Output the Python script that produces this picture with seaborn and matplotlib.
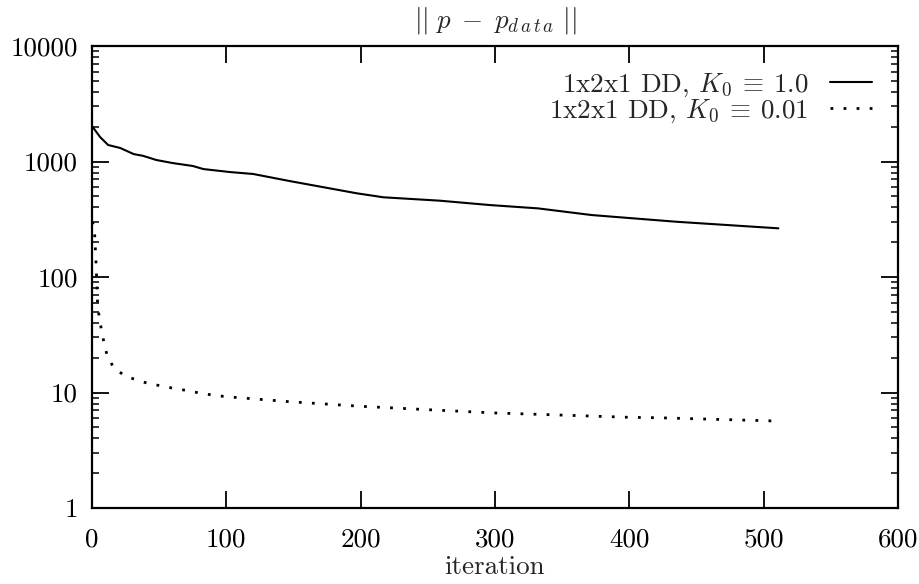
import numpy as np
import pandas as pd
import matplotlib
matplotlib.use("Agg")
import matplotlib.pyplot as plt
from matplotlib.ticker import FixedLocator, FixedFormatter, LogLocator, NullFormatter
import seaborn as sns

# ---- data ----
solid_iter = [0, 6, 12, 21, 31, 38, 48, 60, 75, 83, 103, 120, 147, 197, 217, 259, 296, 332, 372, 435, 511]
solid_val = [2030, 1630, 1390, 1310, 1160, 1120, 1030, 970, 915, 860, 810, 780, 678, 531, 490, 458, 420, 393, 344, 301, 264]

dotted_iter = [0, 1.7, 3, 4.2, 5.5, 7.2, 9.2, 11.6, 16.4, 24.6, 33.7, 42.7, 51.9, 61.8, 71, 81, 90, 100,
               147, 200, 246, 300, 333, 400, 421, 511]
dotted_val = [300, 273, 133, 57, 44, 34, 26, 20.3, 16.3, 13.9, 12.8, 11.9, 11.4, 10.8, 10.4, 9.85, 9.5, 9.2,
              8.33, 7.6, 7.14, 6.65, 6.47, 6.1, 6.05, 5.66]

label_solid = r"1x2x1 DD, $K_0\:\equiv\:1.0$"
label_dotted = r"1x2x1 DD, $K_0\:\equiv\:0.01$"

x_ticks = [0, 100, 200, 300, 400, 500, 600]
y_ticks = [1, 10, 100, 1000, 10000]
y_tick_labels = ["1", "10", "100", "1000", "10000"]

title = r"$||\ p\;-\;p_{d\,a\,t\,a}\ ||$"
xlabel = "iteration"

# ---- style ----
sns.set_style("ticks")
plt.rcParams["font.family"] = ["cmr10", "DejaVu Serif"]
plt.rcParams["mathtext.fontset"] = "cm"
plt.rcParams["axes.formatter.use_mathtext"] = True
FS = 19.5

df1 = pd.DataFrame({"iteration": solid_iter, "value": solid_val})
df2 = pd.DataFrame({"iteration": dotted_iter, "value": dotted_val})

fig = plt.figure(figsize=(9.2, 5.84), dpi=100)
ax = fig.add_axes([0.1, 0.1301, 0.876, 0.7911])

sns.lineplot(data=df1, x="iteration", y="value", ax=ax, color="black", lw=1.5,
             estimator=None, sort=False, label=label_solid)
sns.lineplot(data=df2, x="iteration", y="value", ax=ax, color="black", lw=2.0,
             estimator=None, sort=False, label=label_dotted)
ax.lines[1].set_dashes((1, 3.7))
ax.lines[1].set_dash_capstyle("butt")

ax.set_yscale("log")
ax.set_xlim(0, 600)
ax.set_ylim(1, 10000)

ax.xaxis.set_major_locator(FixedLocator(x_ticks))
ax.set_xticklabels([str(t) for t in x_ticks])
ax.yaxis.set_major_locator(FixedLocator(y_ticks))
ax.yaxis.set_major_formatter(FixedFormatter(y_tick_labels))
ax.yaxis.set_minor_locator(LogLocator(base=10, subs=np.arange(2, 10)))
ax.yaxis.set_minor_formatter(NullFormatter())

ax.tick_params(which="major", direction="in", length=12, width=1.3, top=True, right=True,
               labelsize=FS, colors="black")
ax.tick_params(which="minor", direction="in", length=5, width=1.3, top=False, right=True, left=True)
ax.tick_params(axis="x", which="major", pad=14)
ax.tick_params(axis="y", which="major", pad=10)
for s in ax.spines.values():
    s.set_linewidth(1.6)
    s.set_color("black")

ax.set_title(title, fontsize=FS, pad=13)
ax.set_xlabel(xlabel, fontsize=FS, labelpad=3)
ax.set_ylabel("")

leg = ax.legend(loc="upper right", bbox_to_anchor=(0.968, 0.945), frameon=False, fontsize=FS,
                markerfirst=False, handlelength=1.55, handletextpad=0.8, labelspacing=-0.05,
                borderpad=0, borderaxespad=0)
for t in leg.get_texts():
    t.set_ha("right")

fig.savefig("out.png", dpi=100)
